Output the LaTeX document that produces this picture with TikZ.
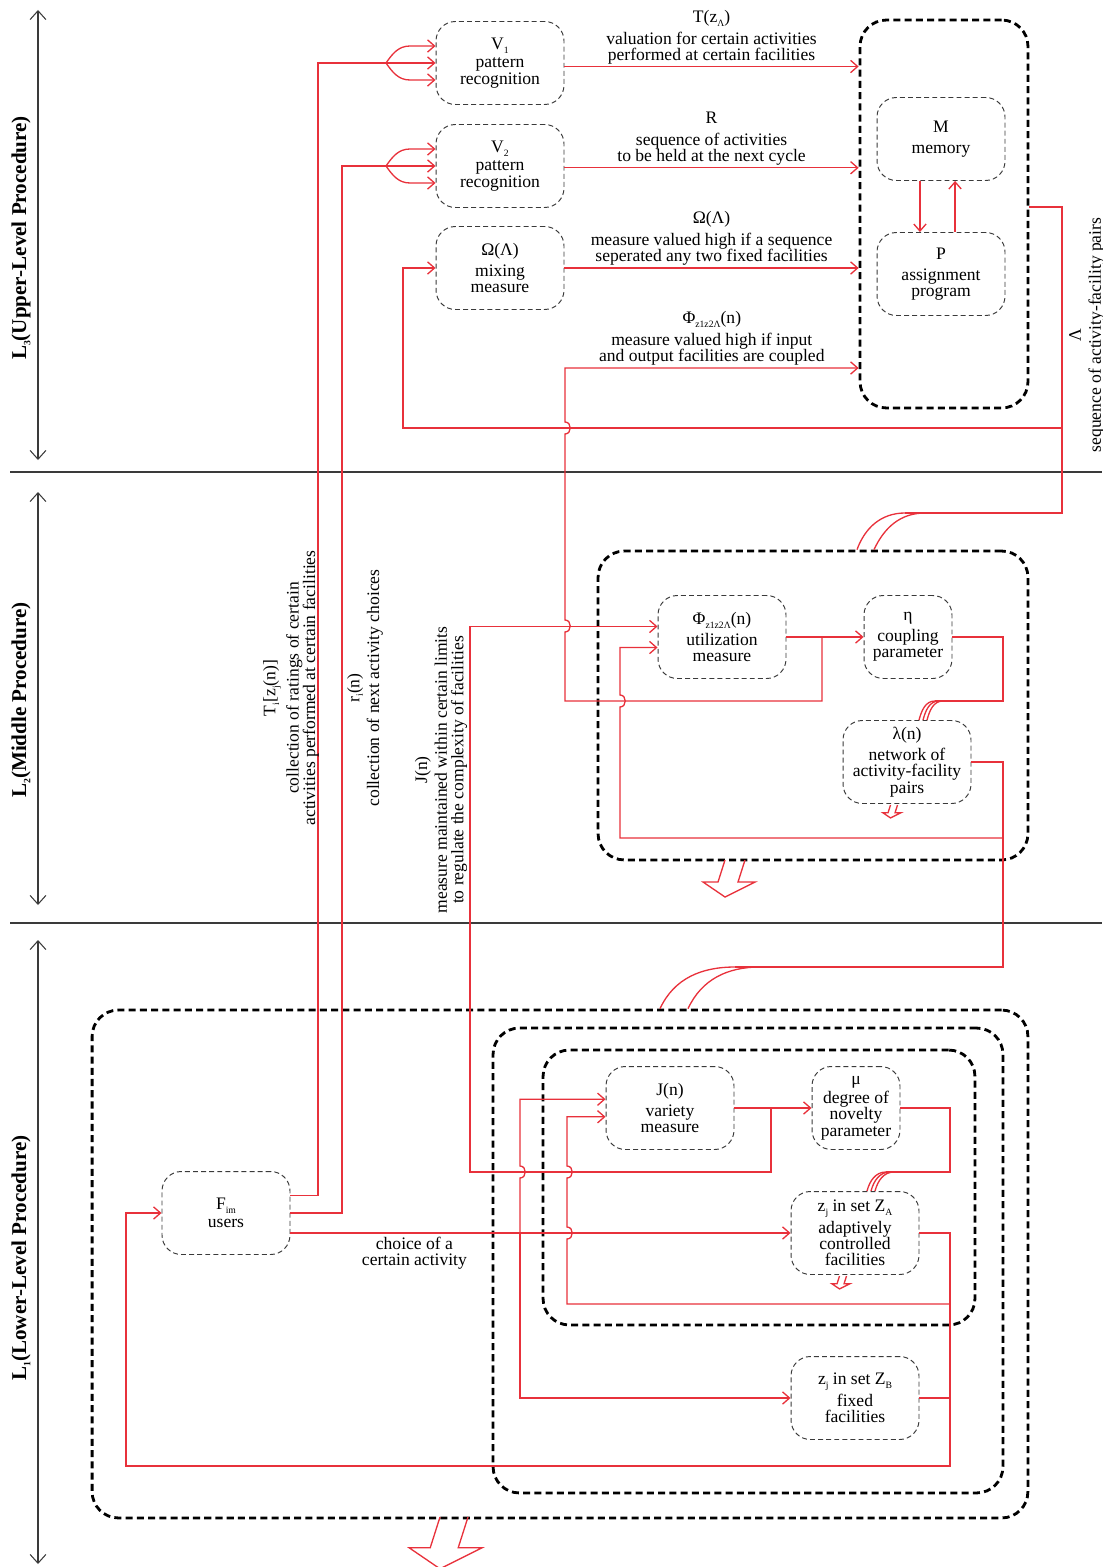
\documentclass[tikz,border=0pt]{standalone}
\usepackage{fontspec}
\setmainfont{Liberation Serif}
\usepackage{xcolor}
\definecolor{linkred}{HTML}{E8313B}
\definecolor{inkgray}{HTML}{3A3A3A}
\usepackage{tikz}
\usetikzlibrary{arrows.meta}

\newcommand{\low}[1]{\raisebox{-0.45ex}{\fontsize{5.5}{6}\selectfont #1}}

\tikzset{
  unit/.style={draw=inkgray, line width=0.55pt, dash pattern=on 2.8pt off 1.8pt,
    rounded corners=11pt, minimum width=2.56cm, minimum height=1.66cm,
    align=center, inner sep=1pt, font=\fontsize{10}{9.3}\selectfont},
  narrowunit/.style={unit, minimum width=1.76cm},
  stage/.style={draw=black, line width=1.6pt, dash pattern=on 4pt off 2.4pt,
    rounded corners=15pt, inner sep=0pt},
  wire/.style={draw=linkred, line width=0.75pt},
  flow/.style={wire, -{Straight Barb[length=4pt,width=7pt]}},
  note/.style={align=center, inner sep=1pt, font=\fontsize{10}{9.3}\selectfont},
  level/.style={inkgray, line width=0.6pt,
    {Straight Barb[length=5pt,width=9pt]}-{Straight Barb[length=5pt,width=9pt]}},
  levelname/.style={rotate=90, inner sep=0pt, font=\fontsize{12}{12}\selectfont\bfseries},
  divider/.style={inkgray, line width=0.6pt},
  hollowdown/.pic={
    \draw[wire, line join=miter] (-10,0) -- (-17,22) -- (-32,22) -- (-10,37)
      -- (20,22) -- (3,22) -- (10,0);
  }
}

\begin{document}
\begin{tikzpicture}[x=0.02cm, y=-0.02cm]
  \useasboundingbox (0,0) rectangle (1102,1567);

  % Levels and dividers
  \draw[level] (38,10) -- (38,460);
  \node[levelname] (upperlevel) at (21,238) {L\low{3}(Upper-Level Procedure)};
  \draw[divider] (10,472) -- (1102,472);
  \draw[level] (38,492) -- (38,905);
  \node[levelname] (middlelevel) at (21,700) {L\low{2}(Middle Procedure)};
  \draw[divider] (10,923) -- (1102,923);
  \draw[level] (38,940) -- (38,1564);
  \node[levelname] (lowerlevel) at (21,1258) {L\low{1}(Lower-Level Procedure)};

  % Upper-level units
  \node[unit] (V1) at (500,63) {V\low{1}\\[1pt]pattern\\recognition};
  \node[unit] (V2) at (500,166) {V\low{2}\\[1pt]pattern\\recognition};
  \node[unit] (mixing) at (500,268) {Ω(Λ)\\[2.5pt]mixing\\measure};
  \node[stage, minimum width=3.36cm, minimum height=7.76cm] (planner) at (944,214) {};
  \node[unit] (memory) at (941,139) {M\\[2.5pt]memory};
  \node[unit] (assign) at (941,274) {P\\[2.5pt]assignment\\program};

  % Middle-level units
  \node[stage, minimum width=8.6cm, minimum height=6.18cm] (midstage) at (813,705.5) {};
  \node[unit] (util) at (722,637) {Φ\low{z1z2Λ}(n)\\[2.5pt]utilization\\measure};
  \node[narrowunit] (coupling) at (908,637) {η\\[2.5pt]coupling\\parameter};
  \node[unit] (network) at (907,762) {λ(n)\\[2.5pt]network of\\activity-facility\\pairs};

  % Lower-level units
  \node[stage, minimum width=18.72cm, minimum height=10.16cm] (lowstage) at (560,1264) {};
  \node[stage, minimum width=10.2cm, minimum height=9.3cm] (facstage) at (748,1260.5) {};
  \node[stage, minimum width=8.64cm, minimum height=5.5cm] (adaptstage) at (759,1187.5) {};
  \node[unit] (variety) at (670,1108) {J(n)\\[2.5pt]variety\\measure};
  \node[narrowunit] (novelty) at (856,1108) {μ\\[1.5pt]degree of\\novelty\\parameter};
  \node[unit] (adaptive) at (855,1233) {z\low{j} in set Z\low{A}\\[1pt]adaptively\\controlled\\facilities};
  \node[unit] (fixed) at (855,1398) {z\low{j} in set Z\low{B}\\[1pt]fixed\\facilities};
  \node[unit] (users) at (226,1213) {F\low{im}\\[1pt]users};

  % Flows into the planner
  \draw[flow] ([yshift=-2pt]V1.east) -- ([yshift=-2pt]V1.east -| planner.west)
    node[note, midway, above=0pt] (valuetag) {T(z\low{Λ})\\[3pt]valuation for certain activities\\performed at certain facilities};
  \draw[flow] ([yshift=-1pt]V2.east) -- ([yshift=-1pt]V2.east -| planner.west)
    node[note, midway, above=0pt] (sequencetag) {R\\[3pt]sequence of activities\\to be held at the next cycle};
  \draw[flow] (mixing.east) -- (mixing.east -| planner.west)
    node[note, midway, above=0pt] (mixtag) {Ω(Λ)\\[3pt]measure valued high if a sequence\\seperated any two fixed facilities};
  \coordinate (utilsplit) at (822,637);
  \draw[flow] (utilsplit) -- (822,701) -- (565,701)
    -- (565,632) .. controls (572,632) and (572,620) .. (565,620)
    -- (565,434) .. controls (572,434) and (572,422) .. (565,422)
    -- (565,368) -- (565,368 -| planner.west)
    node[note, midway, above=0pt] (coupletag) {Φ\low{z1z2Λ}(n)\\[3pt]measure valued high if input\\and output facilities are coupled};

  % Memory and assignment program
  \draw[flow] ([xshift=-12pt]memory.south) -- ([xshift=-12pt]memory.south |- assign.north);
  \draw[flow] ([xshift=8pt]assign.north) -- ([xshift=8pt]assign.north |- memory.south);

  % Sequence of activity-facility pairs
  \coordinate (lamdrop) at (1062,428);
  \draw[wire] ([yshift=4pt]planner.east) -| (1062,513) -- (905,513);
  \draw[wire] (925,513) to[out=180,in=65] (midstage.north -| 874,0);
  \draw[wire] (905,513) to[out=180,in=70] (midstage.north -| 857,0);
  \draw[flow] (lamdrop) -- (403,428) |- (mixing.west);
  \node[note, rotate=90] (lambdatag) at (1087,335) {Λ\\[2pt]sequence of activity-facility pairs};

  % Ratings and choices up to the pattern recognition
  \draw[wire] ([yshift=10pt]users.east) -| (318,63) -- (386,63);
  \draw[wire] (users.east) -| (342,166) -- (386,166);
  \foreach \unit/\fy in {V1/63, V2/166} {
    \draw[flow] (386,\fy) -- (\unit.west);
    \draw[flow] (386,\fy) to[out=55,in=180] (410,\fy-17) -- (410,\fy-17 -| \unit.west);
    \draw[flow] (386,\fy) to[out=-55,in=180] (410,\fy+17) -- (410,\fy+17 -| \unit.west);
  }
  \node[note, rotate=90] (ratingtag) at (291,688) {T\low{i}[z\low{j}(n)]\\[2pt]collection of ratings of certain\\activities performed at certain facilities};
  \node[note, rotate=90] (choicetag) at (365,688) {r\low{i}(n)\\[2pt]collection of next activity choices};
  \node[note, rotate=90] (varietytag) at (441,770) {J(n)\\[2pt]measure maintained within certain limits\\to regulate the complexity of facilities};

  % Middle level
  \draw[flow] (util.east) -- (coupling.west);
  \draw[wire] (coupling.east) -| (1003,701) -- (935,701);
  \draw[wire] (943,701) to[out=180,in=75] (network.north -| 927,0);
  \draw[wire] (939,701) to[out=180,in=75] (network.north -| 923,0);
  \draw[wire] (935,701) to[out=180,in=75] (network.north -| 919,0);
  \coordinate (netsplit) at (1003,838);
  \draw[wire] (network.east) -| (1003,967) -- (735,967);
  \draw[wire] (760,967) to[out=180,in=65] (lowstage.north -| 688,0);
  \draw[wire] (735,967) to[out=180,in=65] (lowstage.north -| 660,0);
  \draw[flow] (netsplit) -- (620,838)
    -- (620,707) .. controls (627,707) and (627,695) .. (620,695)
    |- ([yshift=-6pt]util.west);

  % Lower level
  \draw[flow] (variety.east) -- (novelty.west);
  \coordinate (varsplit) at (771,1108);
  \draw[flow] (varsplit) -- (771,1172) -- (470,1172) |- ([yshift=6pt]util.west);
  \draw[wire] (novelty.east) -| (950,1172) -- (886,1172);
  \draw[wire] (894,1172) to[out=180,in=75] (adaptive.north -| 875,0);
  \draw[wire] (890,1172) to[out=180,in=75] (adaptive.north -| 871,0);
  \draw[wire] (886,1172) to[out=180,in=75] (adaptive.north -| 867,0);
  \coordinate (adaptsplit) at (950,1304);
  \draw[flow] (adaptive.east) -| (950,1466) -- (126,1466) |- (users.west);
  \draw[wire] (fixed.east) -- (fixed.east -| adaptsplit);
  \draw[flow] (adaptsplit) -- (567,1304)
    -- (567,1239) .. controls (574,1239) and (574,1227) .. (567,1227)
    -- (567,1178) .. controls (574,1178) and (574,1166) .. (567,1166)
    |- ([yshift=-5pt]variety.west);
  \coordinate (choicesplit) at (520,1233);
  \draw[wire] (users.east |- adaptive.west) -- (choicesplit)
    node[note, pos=0.54, below=1pt] (activitytag) {choice of a\\certain activity};
  \draw[flow] (choicesplit) -- (adaptive.west);
  \draw[flow] (choicesplit) -- (520,1178) .. controls (527,1178) and (527,1166) .. (520,1166)
    |- ([yshift=5pt]variety.west);
  \draw[flow] (choicesplit) |- (fixed.west);

  % Hollow output arrows
  \pic at (735,860) {hollowdown};
  \pic[scale=1.4] at (454,1517) {hollowdown};
  \pic[scale=0.35] at (894,805) {hollowdown};
  \pic[scale=0.35] at (843,1276) {hollowdown};
\end{tikzpicture}
\end{document}
